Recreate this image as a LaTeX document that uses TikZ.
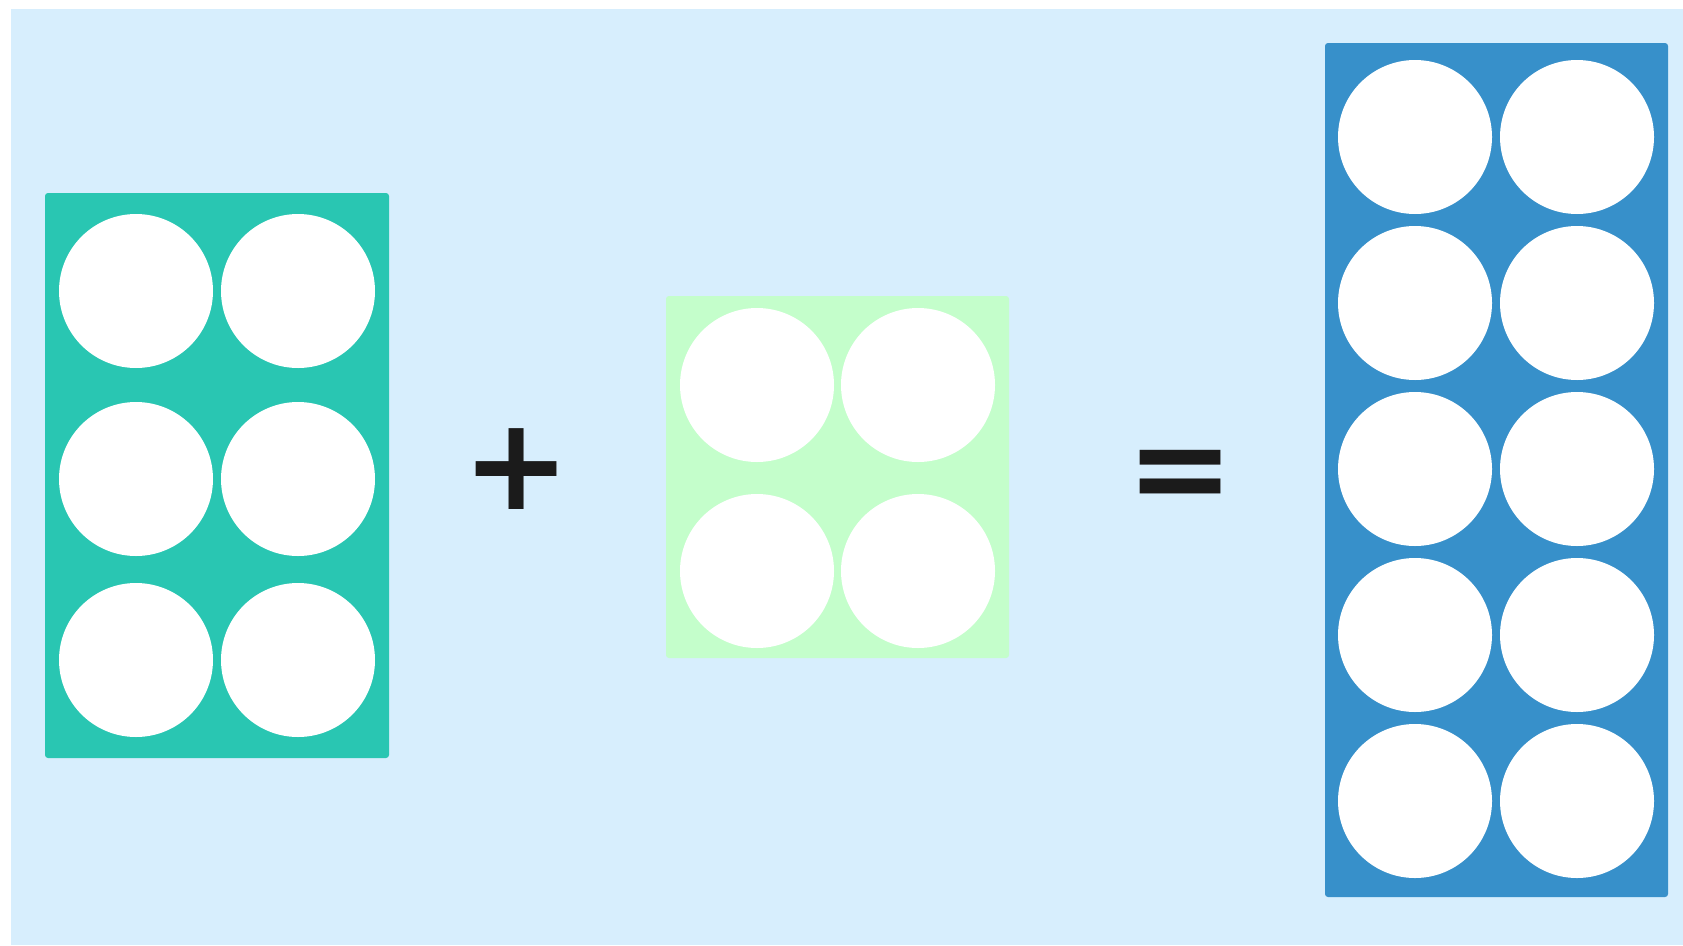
\documentclass[tikz,border=0pt]{standalone}
\usepackage{fontspec}
\newfontfamily\signfont{DejaVu Sans}
\definecolor{paper}{HTML}{D7EEFD}
\definecolor{teal}{HTML}{29C6B2}
\definecolor{mint}{HTML}{C4FECB}
\definecolor{sea}{HTML}{3790CA}
\definecolor{ink}{HTML}{1B1B1B}
\tikzset{
  frame/.style={rectangle, rounded corners=3pt, inner sep=0pt, minimum width=343pt},
  dot/.style={circle, fill=white, inner sep=0pt, minimum size=154pt},
  sign/.style={inner sep=0pt, text=ink, font=\signfont\bfseries\fontsize{129}{129}\selectfont}
}
\begin{document}
\begin{tikzpicture}[x=1pt, y=-1pt]
      \useasboundingbox (0,0) rectangle (1683,945);
      \fill[paper] (11,9) rectangle (1683,945);
      % the three frames
      \node[frame, fill=teal, minimum width=344pt, minimum height=565pt] (six) at (217,475.5) {};
      \node[frame, fill=mint, minimum height=362pt] (four) at (837.5,477) {};
      \node[frame, fill=sea, minimum height=854pt] (ten) at (1496.5,470) {};
      % dots in the teal frame
      \node[dot] (s1) at (136,291) {};
      \node[dot] (s2) at (298,291) {};
      \node[dot] (s3) at (136,479) {};
      \node[dot] (s4) at (298,479) {};
      \node[dot] (s5) at (136,660) {};
      \node[dot] (s6) at (298,660) {};
      % dots in the mint frame
      \node[dot] (f1) at (757,385) {};
      \node[dot] (f2) at (918,385) {};
      \node[dot] (f3) at (757,571) {};
      \node[dot] (f4) at (918,571) {};
      % dots in the blue frame
      \node[dot] (t1) at (1415,137) {};
      \node[dot] (t2) at (1577,137) {};
      \node[dot] (t3) at (1415,303) {};
      \node[dot] (t4) at (1577,303) {};
      \node[dot] (t5) at (1415,469) {};
      \node[dot] (t6) at (1577,469) {};
      \node[dot] (t7) at (1415,635) {};
      \node[dot] (t8) at (1577,635) {};
      \node[dot] (t9) at (1415,801) {};
      \node[dot] (t10) at (1577,801) {};
      % signs
      \node[sign] (plus) at (517,469) {+};
      \node[sign] (equals) at (1181,481) {=};
    \end{tikzpicture}
\end{document}
